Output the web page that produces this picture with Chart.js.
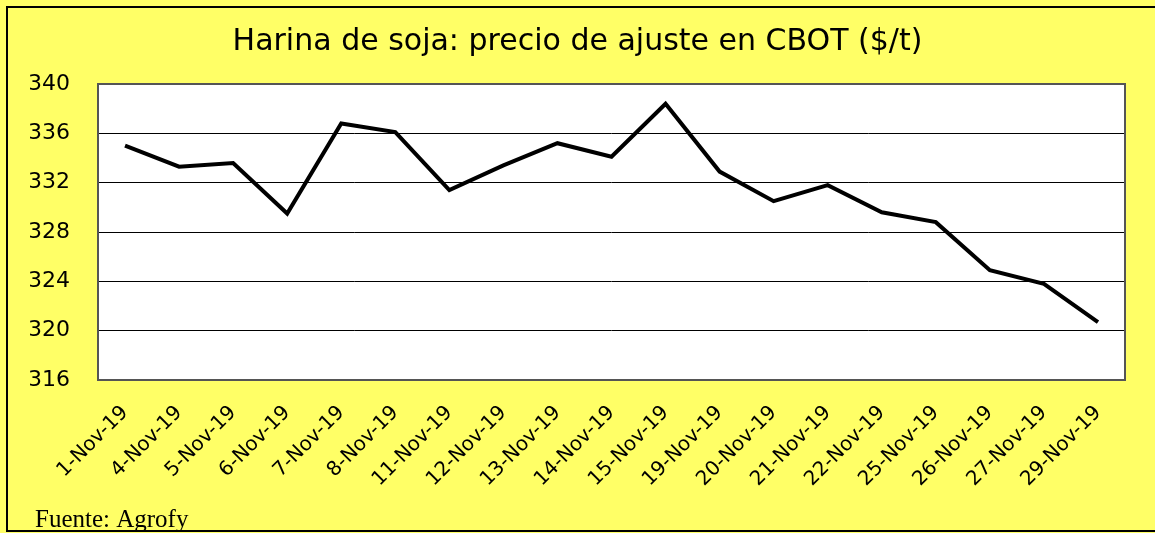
<!DOCTYPE html>
<html>
<head>
<meta charset="utf-8">
<script src="https://cdn.jsdelivr.net/npm/chart.js@4/dist/chart.umd.min.js"></script>
<style>
  html, body { margin: 0; padding: 0; background: #fff; }
  #wrap { position: absolute; left: 0; top: 0; width: 1155px; height: 533px; }
</style>
</head>
<body>
<div id="wrap"><canvas id="chart" width="1155" height="533"></canvas></div>
<script>
// Data
var fechas = ["1-Nov-19", "4-Nov-19", "5-Nov-19", "6-Nov-19", "7-Nov-19", "8-Nov-19",
  "11-Nov-19", "12-Nov-19", "13-Nov-19", "14-Nov-19", "15-Nov-19", "19-Nov-19",
  "20-Nov-19", "21-Nov-19", "22-Nov-19", "25-Nov-19", "26-Nov-19", "27-Nov-19", "29-Nov-19"];
var precios = [335.0, 333.3, 333.6, 329.5, 336.8, 336.1,
  331.4, 333.4, 335.2, 334.1, 338.4, 332.9,
  330.5, 331.8, 329.6, 328.8, 324.9, 323.8, 320.7];
var yMin = 316, yMax = 340, yStep = 4;
var titulo = "Harina de soja: precio de ajuste en CBOT ($/t)";
var fuente = "Fuente: Agrofy";

var YELLOW = "#ffff66";

// background, plot frame and the source note
var decor = {
  id: "decor",
  beforeDraw: function(chart) {
    var ctx = chart.ctx, a = chart.chartArea;
    ctx.save();
    ctx.fillStyle = YELLOW;
    ctx.fillRect(0, 0, chart.width, chart.height);
    ctx.fillStyle = "#fff";
    ctx.fillRect(a.left, a.top, a.right - a.left, a.bottom - a.top);
    // outer frame (right edge is cropped in the original)
    ctx.strokeStyle = "#000";
    ctx.lineWidth = 2;
    ctx.beginPath();
    ctx.moveTo(1160, 7);
    ctx.lineTo(7, 7);
    ctx.lineTo(7, 531);
    ctx.lineTo(1160, 531);
    ctx.stroke();
    ctx.restore();
  },
  afterDraw: function(chart) {
    var ctx = chart.ctx, a = chart.chartArea;
    ctx.save();
    ctx.strokeStyle = "#555";
    ctx.lineWidth = 2;
    ctx.strokeRect(a.left, a.top, a.right - a.left, a.bottom - a.top);
    ctx.fillStyle = "#000";
    ctx.font = "25px 'Liberation Serif', serif";
    ctx.textBaseline = "alphabetic";
    ctx.fillText(fuente, 35, 527);
    ctx.restore();
  }
};

new Chart(document.getElementById("chart"), {
  type: "line",
  data: {
    labels: fechas,
    datasets: [{
      data: precios,
      borderColor: "#000",
      borderWidth: 4,
      pointRadius: 0,
      tension: 0,
      fill: false
    }]
  },
  options: {
    responsive: false,
    animation: false,
    layout: { padding: { top: 8, left: 30, right: 30, bottom: 8 } },
    plugins: {
      legend: { display: false },
      tooltip: { enabled: false },
      title: {
        display: true,
        text: titulo,
        color: "#000",
        font: { family: "'DejaVu Sans', sans-serif", size: 30, weight: "normal" },
        padding: { top: 16, bottom: 24 }
      }
    },
    scales: {
      x: {
        offset: true,
        grid: { display: false, drawTicks: false },
        border: { display: false },
        ticks: {
          color: "#000",
          autoSkip: false,
          minRotation: 45,
          maxRotation: 45,
          padding: 21,
          font: { family: "'DejaVu Sans', sans-serif", size: 20 }
        },
        afterFit: function(scale) { scale.height = 145; }
      },
      y: {
        min: yMin,
        max: yMax,
        grid: { color: "#000", lineWidth: 1, drawTicks: false },
        border: { display: false },
        ticks: {
          stepSize: yStep,
          color: "#000",
          padding: 28,
          font: { family: "'DejaVu Sans', sans-serif", size: 22 }
        },
        afterFit: function(scale) { scale.width = 68; }
      }
    }
  },
  plugins: [decor]
});
</script>
</body>
</html>
